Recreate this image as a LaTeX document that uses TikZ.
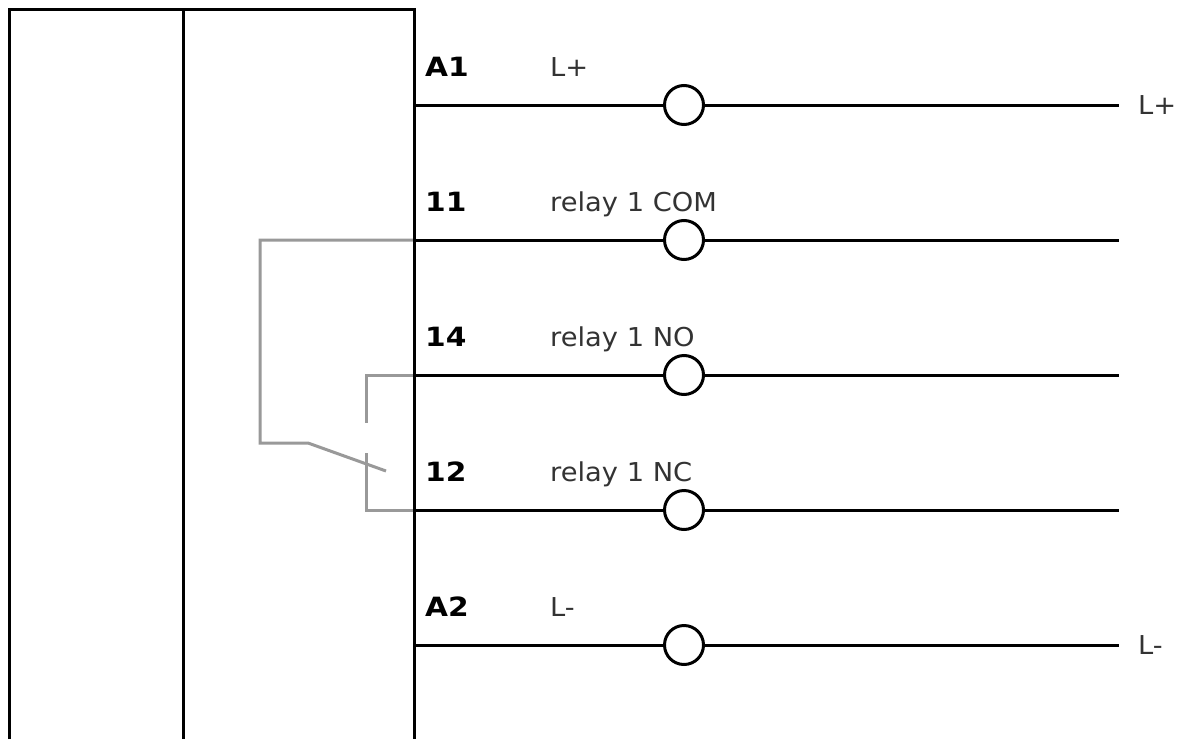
\documentclass[tikz,border=0pt]{standalone}
\usepackage{fontspec}
\setmainfont{DejaVu Sans}
\newfontfamily\labfont[FakeStretch=1.05]{DejaVu Sans}
\newfontfamily\pinfont[FakeStretch=1.12]{DejaVu Sans Bold}
\begin{document}
\begin{tikzpicture}[x=1pt,y=-1pt,
  wire/.style={draw=black,line width=3pt},
  box/.style={draw=black,line width=3pt},
  relay/.style={draw=black!40,line width=3pt,line join=miter},
  term/.style={circle,draw=black,fill=white,line width=3pt,minimum size=39pt,inner sep=0pt},
  pin/.style={anchor=base west,font=\pinfont\fontsize{26.5}{30}\selectfont,inner sep=0pt},
  lab/.style={anchor=base west,font=\labfont\fontsize{26}{30}\selectfont,text=black!80,inner sep=0pt}]
\useasboundingbox (0,0) rectangle (1183,739);
\fill[white] (0,0) rectangle (1183,739);
\coordinate (bl) at (9,739); \coordinate (tl) at (9,9); \coordinate (tr) at (414,9); \coordinate (br) at (414,739);
\coordinate (mt) at (183,9); \coordinate (mb) at (183,739);
\foreach \n/\y in {a/105,b/240,c/375,d/510,e/645}{
  \coordinate (\n L) at (414,\y);
  \coordinate (\n R) at (1119,\y);
}
\coordinate (r1) at (260,240); \coordinate (r2) at (260,443); \coordinate (r3) at (308,443); \coordinate (r4) at (386,471);
\draw[relay] (bL) -- (r1) -- (r2) -- (r3) -- (r4);
\coordinate (n1) at (366,375); \coordinate (n2) at (366,423);
\draw[relay] (cL) -- (n1) -- (n2);
\coordinate (c1) at (366,510); \coordinate (c2) at (366,453);
\draw[relay] (dL) -- (c1) -- (c2);
\draw[box] (bl) -- (tl) -- (tr) -- (br);
\draw[box] (mt) -- (mb);
\foreach \n/\y in {a/105,b/240,c/375,d/510,e/645}{
  \node[term] (\n T) at (684,\y) {};
  \draw[wire] (\n L) -- (\n T);
  \draw[wire] (\n T) -- (\n R);
}
\node[pin] (pa) at (425,76) {A1};
\node[pin] (pb) at (425,211) {11};
\node[pin] (pc) at (425,346) {14};
\node[pin] (pd) at (425,481) {12};
\node[pin] (pe) at (425,616) {A2};
\node[lab] (la) at (550,76) {L+};
\node[lab] (lb) at (550,211) {relay 1 COM};
\node[lab] (lc) at (550,346) {relay 1 NO};
\node[lab] (ld) at (550,481) {relay 1 NC};
\node[lab] (le) at (550,616) {L-};
\node[lab] (ra) at (1138,114) {L+};
\node[lab] (re) at (1138,654) {L-};
\end{tikzpicture}
\end{document}
